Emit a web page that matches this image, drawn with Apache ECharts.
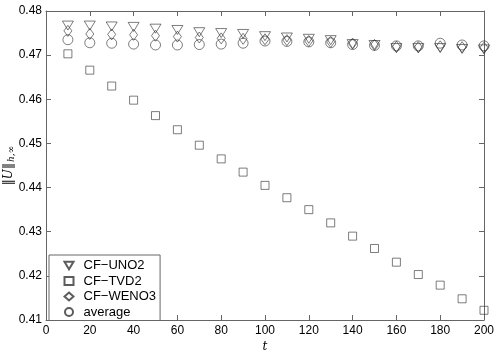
<!DOCTYPE html>
<html>
<head>
<meta charset="utf-8">
<script src="https://cdn.jsdelivr.net/npm/echarts@6/dist/echarts.min.js"></script>
<style>
  html, body { margin: 0; padding: 0; background: #fff; }
  #main { width: 498px; height: 352px; }
</style>
</head>
<body>
<div id="main"></div>
<script>
// time steps
const tValues = [10, 20, 30, 40, 50, 60, 70, 80, 90, 100, 110, 120, 130, 140, 150, 160, 170, 180, 190, 200];
// ||U||_{h,inf} for each scheme
const uno2 = [0.4767, 0.4767, 0.4765, 0.4764, 0.4760, 0.4757, 0.4752, 0.4750, 0.4748, 0.4743,
              0.4740, 0.4737, 0.4734, 0.4725, 0.4723, 0.4716, 0.4716, 0.4716, 0.4714, 0.4713];
const tvd2 = [0.4703, 0.4666, 0.4630, 0.4598, 0.4563, 0.4531, 0.4496, 0.4465, 0.4435, 0.4405,
              0.4377, 0.4350, 0.4320, 0.4290, 0.4262, 0.4231, 0.4203, 0.4179, 0.4148, 0.4122];
const weno3 = [0.4755, 0.4748, 0.4747, 0.4746, 0.4744, 0.4742, 0.4740, 0.4738, 0.4737, 0.4736,
               0.4734, 0.4732, 0.4730, 0.4726, 0.4723, 0.4719, 0.4718, 0.4720, 0.4718, 0.4717];
const average = [0.4735, 0.4728, 0.4727, 0.4725, 0.4723, 0.4723, 0.4724, 0.4725, 0.4727, 0.4732,
                 0.4731, 0.4730, 0.4728, 0.4724, 0.4722, 0.4721, 0.4721, 0.4727, 0.4723, 0.4721];
const xTicks = { min: 0, max: 200, step: 20 };
const yTicks = { min: 0.41, max: 0.48, step: 0.01 };

const pairs = ys => tValues.map((t, i) => [t, ys[i]]);

const ink = '#333';
const frame = '#666';
const font = 'Liberation Sans, Arial, sans-serif';

const mark = { color: 'none', borderColor: ink, borderWidth: 0.8 };

const xBase = {
  type: 'value', min: xTicks.min, max: xTicks.max, interval: xTicks.step,
  axisLine: { onZero: false, lineStyle: { color: frame, width: 1 } },
  axisTick: { inside: true, length: 5, lineStyle: { color: frame } },
  splitLine: { show: false }
};
const yBase = {
  type: 'value', min: yTicks.min, max: yTicks.max, interval: yTicks.step,
  axisLine: { onZero: false, lineStyle: { color: frame, width: 1 } },
  axisTick: { inside: true, length: 5, lineStyle: { color: frame } },
  splitLine: { show: false }
};

const chart = echarts.init(document.getElementById('main'));
chart.setOption({
  animation: false,
  grid: { left: 46, right: 14, top: 11, bottom: 32, containLabel: false, outerBoundsMode: 'none' },
  xAxis: [
    Object.assign({}, xBase, {
      position: 'bottom',
      name: 't', nameLocation: 'middle', nameGap: 21, nameMoveOverlap: false,
      nameTextStyle: { fontFamily: 'DejaVu Serif, serif', fontStyle: 'italic', fontSize: 12, color: '#000' },
      axisLabel: { fontFamily: font, fontSize: 12, color: '#000', margin: 5 }
    }),
    Object.assign({}, xBase, { position: 'top', axisLabel: { show: false } })
  ],
  yAxis: [
    Object.assign({}, yBase, {
      position: 'left',
      name: '{n|‖}{u|U}{n|‖}{s|h,∞}', nameLocation: 'middle', nameGap: 30, nameRotate: 90,
      nameMoveOverlap: false,
      nameTextStyle: {
        rich: {
          n: { fontFamily: 'DejaVu Serif, serif', fontSize: 12, color: '#000' },
          u: { fontFamily: 'DejaVu Serif, serif', fontStyle: 'italic', fontSize: 12, color: '#000' },
          s: { fontFamily: 'DejaVu Serif, serif', fontStyle: 'italic', fontSize: 9, color: '#000', padding: [6, 0, 0, 1] }
        }
      },
      axisLabel: { fontFamily: font, fontSize: 12, color: '#000', margin: 4, formatter: v => v.toFixed(2) }
    }),
    Object.assign({}, yBase, { position: 'right', axisLabel: { show: false } })
  ],
  legend: {
    orient: 'vertical', left: 49, top: 255,
    padding: [4, 4, 2, 13],
    itemGap: 2.5,
    itemWidth: 9, itemHeight: 8,
    backgroundColor: '#fff',
    borderColor: frame, borderWidth: 1,
    textStyle: { fontFamily: font, fontSize: 13, color: '#000', padding: [0, 0, 0, 5] },
    data: ['CF\u2212UNO2', 'CF\u2212TVD2', 'CF\u2212WENO3', 'average']
  },
  series: [
    { name: 'CF\u2212UNO2', type: 'scatter', data: pairs(uno2),
      symbol: 'path://M0,0L12,0L6,10Z', symbolSize: [11, 9], itemStyle: mark, z: 3 },
    { name: 'CF\u2212TVD2', type: 'scatter', data: pairs(tvd2),
      symbol: 'rect', symbolSize: 8, itemStyle: mark, z: 3 },
    { name: 'CF\u2212WENO3', type: 'scatter', data: pairs(weno3),
      symbol: 'diamond', symbolSize: [8, 11], itemStyle: mark, z: 3 },
    { name: 'average', type: 'scatter', data: pairs(average),
      symbol: 'circle', symbolSize: 10, itemStyle: mark, z: 3 }
  ]
});
</script>
</body>
</html>
